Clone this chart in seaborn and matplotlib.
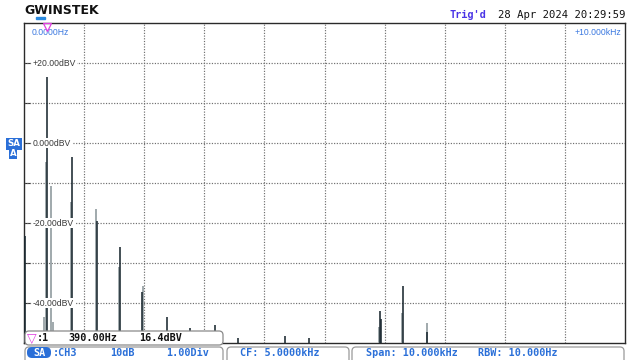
import matplotlib
matplotlib.use("Agg")
import matplotlib.pyplot as plt
from matplotlib.patches import FancyBboxPatch, Rectangle
from matplotlib.transforms import Affine2D
import seaborn as sns
import pandas as pd

# Spectrum lines: centre bins (dark) and neighbouring leakage bins (grey), in Hz / dBV
peak_freq = [10, 390, 805, 1210, 1590, 1970, 2380, 2770, 3170, 3565, 4350, 4735, 5920, 5945, 6310, 6700]
peak_level = [-23.2, 16.4, -3.6, -19.5, -26.0, -37.2, -43.5, -46.2, -45.5, -48.7, -48.2, -48.8, -41.9, -44.0, -35.7, -47.3]
side_freq = [330, 372, 445, 485, 780, 1195, 1575, 1980, 5905, 6295, 6710]
side_level = [-43.5, -4.7, -10.7, -44.7, -14.7, -16.5, -31.0, -35.7, -46.0, -42.4, -45.1]

y_ticks = [20, 0, -20, -40]
y_tick_labels = ["+20.00dBV", "0.000dBV", "-20.00dBV", "-40.00dBV"]

marker_freq = 390.00
marker_level = 16.4

F_MIN, F_MAX = 0, 10000
DB_MIN, DB_MAX = -50, 30

sns.set_theme(style="white")
plt.rcParams["font.family"] = ["Liberation Sans", "DejaVu Sans"]

W, H = 632, 360
fig = plt.figure(figsize=(W / 100, H / 100), dpi=100)
fig.patch.set_facecolor("white")
# pixel transform (origin top-left, y downward)
px = Affine2D().scale(1 / 100, -1 / 100).translate(0, H / 100) + fig.dpi_scale_trans

ax = fig.add_axes([24 / W, (H - 343) / H, 601 / W, 320 / H])
ax.set_xlim(F_MIN, F_MAX)
ax.set_ylim(DB_MIN, DB_MAX)
ax.set_facecolor("white")

# dotted graticule
for f in range(F_MIN + 1000, F_MAX, 1000):
    ax.axvline(f, color="#6e6e6e", lw=0.85, ls=(0, (1, 1.3)), zorder=1)
for d in range(DB_MIN + 10, DB_MAX, 10):
    ax.axhline(d, color="#6e6e6e", lw=0.85, ls=(0, (1, 1.3)), zorder=1)

for s in ax.spines.values():
    s.set_color("#2a2a2a")
    s.set_linewidth(1.0)
ax.set_xticks([])
ax.set_yticks(range(DB_MIN + 10, DB_MAX, 10))
ax.tick_params(axis="y", direction="in", length=4, width=0.8, color="#333333",
               labelleft=False, left=True)

spec_side = pd.DataFrame({"freq": side_freq, "level": side_level})
spec_peak = pd.DataFrame({"freq": peak_freq, "level": peak_level})
ax.vlines(spec_side["freq"], DB_MIN, spec_side["level"], color="#98a2a6", lw=1.3, zorder=3)
ax.vlines(spec_peak["freq"], DB_MIN, spec_peak["level"], color="#1a2830", lw=1.15, zorder=4)

# level labels on the graticule
for v, lab in zip(y_ticks, y_tick_labels):
    ax.text(0.015, v, lab, transform=ax.get_yaxis_transform(), ha="left", va="center",
            fontsize=6.2, color="#3a3a3a", zorder=5,
            bbox=dict(facecolor="white", edgecolor="none", pad=0.6))

ax.text(0.013, 0.983, "0.0000Hz", transform=ax.transAxes, ha="left", va="top",
        fontsize=6.2, color="#3a78e0", zorder=6)
ax.text(0.993, 0.983, "+10.000kHz", transform=ax.transAxes, ha="right", va="top",
        fontsize=6.2, color="#3a78e0", zorder=6)
# marker flag at the top of the screen
ax.plot([marker_freq], [DB_MAX - 1.0], marker="v", ms=5.5, mfc="none", mec="#e040e0",
        mew=0.9, clip_on=False, zorder=7)

# header
fig.text(24, 11, "GWINSTEK", transform=px, ha="left", va="center", fontsize=9,
         fontweight="bold", family="DejaVu Sans", color="#111111")
fig.patches.append(Rectangle((36, 17), 9, 2, transform=px, color="#2a8ae0"))
fig.text(449, 15, "Trig'd", transform=px, ha="left", va="center", fontsize=7.4,
         family="DejaVu Sans Mono", fontweight="bold", color="#4a34e6")
fig.text(626, 15, "28 Apr 2024 20:29:59", transform=px, ha="right", va="center",
         fontsize=7.6, family="DejaVu Sans Mono", color="#111111")

# channel badge
fig.text(14, 144, "SA", transform=px, ha="center", va="center", fontsize=6.2,
         fontweight="bold", family="DejaVu Sans", color="white",
         bbox=dict(facecolor="#2a6fd8", edgecolor="none", pad=0.8))
fig.text(13, 153.5, "A", transform=px, ha="center", va="center", fontsize=6.2,
         fontweight="bold", family="DejaVu Sans", color="white",
         bbox=dict(facecolor="#2a6fd8", edgecolor="none", pad=0.8))

# marker readout box
fig.patches.append(FancyBboxPatch((26, 332), 196, 12, boxstyle="round,pad=1,rounding_size=4",
                                  transform=px, facecolor="white", edgecolor="#8a8a8a",
                                  lw=0.9, zorder=10))
mono = dict(transform=px, va="center", family="DejaVu Sans Mono", fontweight="bold",
            fontsize=7.3, zorder=11)
fig.text(27, 338, "▽", color="#e040e0", ha="left", transform=px, va="center",
         family="DejaVu Sans", fontsize=9, zorder=11)
fig.text(37, 338, ":1", color="#111111", ha="left", **mono)
fig.text(68, 338, f"{marker_freq:.2f}Hz", color="#111111", ha="left", **mono)
fig.text(139, 338, f"{marker_level:.1f}dBV", color="#111111", ha="left", **mono)

# status bar
for x0, w in [(26, 196), (228, 120), (353, 270)]:
    fig.patches.append(FancyBboxPatch((x0, 348), w, 16, boxstyle="round,pad=1,rounding_size=4",
                                      transform=px, facecolor="white", edgecolor="#9a9a9a",
                                      lw=0.9, zorder=10))
blue = "#2a6fd8"
fig.patches.append(FancyBboxPatch((28, 348), 22, 9, boxstyle="round,pad=1,rounding_size=5",
                                  transform=px, facecolor=blue, edgecolor="none", zorder=11))
fig.text(39, 352.5, "SA", color="white", ha="center", **mono)
fig.text(53, 352.5, ":CH3", color=blue, ha="left", **mono)
fig.text(110, 352.5, "10dB", color=blue, ha="left", **mono)
fig.text(166, 352.5, "1.00Div", color=blue, ha="left", **mono)
fig.text(240, 352.5, "CF: 5.0000kHz", color=blue, ha="left", **mono)
fig.text(366, 352.5, "Span: 10.000kHz", color=blue, ha="left", **mono)
fig.text(478, 352.5, "RBW: 10.000Hz", color=blue, ha="left", **mono)

fig.savefig("out.png", dpi=100, facecolor="white")
